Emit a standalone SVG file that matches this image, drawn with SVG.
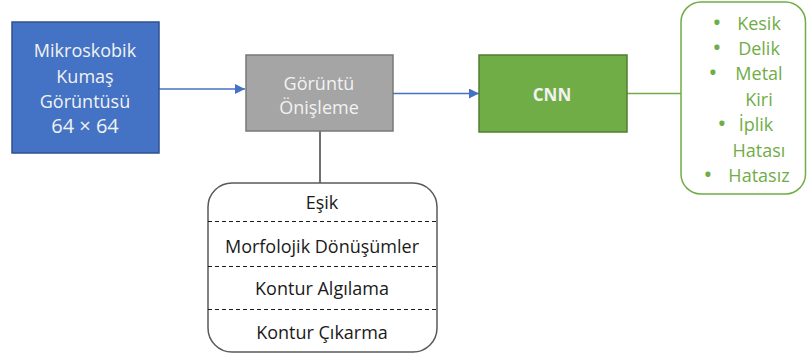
<svg xmlns="http://www.w3.org/2000/svg" width="807" height="354" viewBox="0 0 807 354">
  <style>
    text { font-family: "Open Sans", "Noto Sans", "Liberation Sans", sans-serif; font-size: 18px; text-anchor: middle; dominant-baseline: central; }
    .light { fill: #F2F2F2; }
    .green { fill: #70AD47; }
    .dark { fill: #1a1a1a; }
    .bold { font-weight: bold; font-size: 17px; }
    .dot { font-size: 18px; font-weight: bold; }
  </style>
  <defs>
    <marker id="arrow" viewBox="0 0 10 10" refX="10" refY="5" markerWidth="10" markerHeight="10" markerUnits="userSpaceOnUse" orient="auto">
      <path d="M0,0 L10,5 L0,10 z" fill="#4472C4"/>
    </marker>
  </defs>

  <g id="connectors">
    <line x1="159" y1="89" x2="245" y2="89" stroke="#4472C4" stroke-width="1.3" marker-end="url(#arrow)"/>
    <line x1="393" y1="93.5" x2="479" y2="93.5" stroke="#4472C4" stroke-width="1.3" marker-end="url(#arrow)"/>
    <line x1="627" y1="93.5" x2="681" y2="93.5" stroke="#70AD47" stroke-width="1.3"/>
    <line x1="320" y1="131" x2="320" y2="183" stroke="#404040" stroke-width="1.5"/>
  </g>

  <g id="input">
    <rect x="12" y="22" width="147" height="131" fill="#4472C4" stroke="#2F528F" stroke-width="1.5"/>
    <text class="light" x="85" y="50">Mikroskobik</text>
    <text class="light" x="85" y="76">Kumaş</text>
    <text class="light" x="85" y="101">Görüntüsü</text>
    <text class="light" x="85" y="125" style="font-size:20px">64 × 64</text>
  </g>

  <g id="preprocess">
    <rect x="246" y="55" width="147" height="76" fill="#A5A5A5" stroke="#787878" stroke-width="1.5"/>
    <text class="light" x="319" y="83">Görüntü</text>
    <text class="light" x="319" y="107">Önişleme</text>
  </g>

  <g id="cnn">
    <rect x="479" y="55" width="148" height="77" fill="#70AD47" stroke="#507E32" stroke-width="1.5"/>
    <text class="light bold" x="552" y="94">CNN</text>
  </g>

  <g id="classes">
    <rect x="681" y="2" width="124.5" height="192" rx="20" ry="20" fill="#FFFFFF" stroke="#70AD47" stroke-width="1.5"/>
    <text class="green dot" x="717" y="22">•</text>
    <text class="green" x="759" y="23">Kesik</text>
    <text class="green dot" x="717" y="47">•</text>
    <text class="green" x="759" y="48">Delik</text>
    <text class="green dot" x="713" y="72">•</text>
    <text class="green" x="759" y="73">Metal</text>
    <text class="green" x="759" y="99">Kiri</text>
    <text class="green dot" x="722" y="123">•</text>
    <text class="green" x="756" y="124">İplik</text>
    <text class="green" x="759" y="150">Hatası</text>
    <text class="green dot" x="708" y="174">•</text>
    <text class="green" x="759" y="175">Hatasız</text>
  </g>

  <g id="steps">
    <rect x="208" y="183" width="229" height="169" rx="24" ry="24" fill="#FFFFFF" stroke="#595959" stroke-width="1.5"/>
    <line x1="208" y1="221.5" x2="437" y2="221.5" stroke="#1a1a1a" stroke-width="1" stroke-dasharray="4,3"/>
    <line x1="208" y1="266.5" x2="437" y2="266.5" stroke="#1a1a1a" stroke-width="1" stroke-dasharray="4,3"/>
    <line x1="208" y1="309.5" x2="437" y2="309.5" stroke="#1a1a1a" stroke-width="1" stroke-dasharray="4,3"/>
    <text class="dark" x="322" y="202">Eşik</text>
    <text class="dark" x="322" y="246">Morfolojik Dönüşümler</text>
    <text class="dark" x="322" y="288">Kontur Algılama</text>
    <text class="dark" x="322" y="332">Kontur Çıkarma</text>
  </g>
</svg>
